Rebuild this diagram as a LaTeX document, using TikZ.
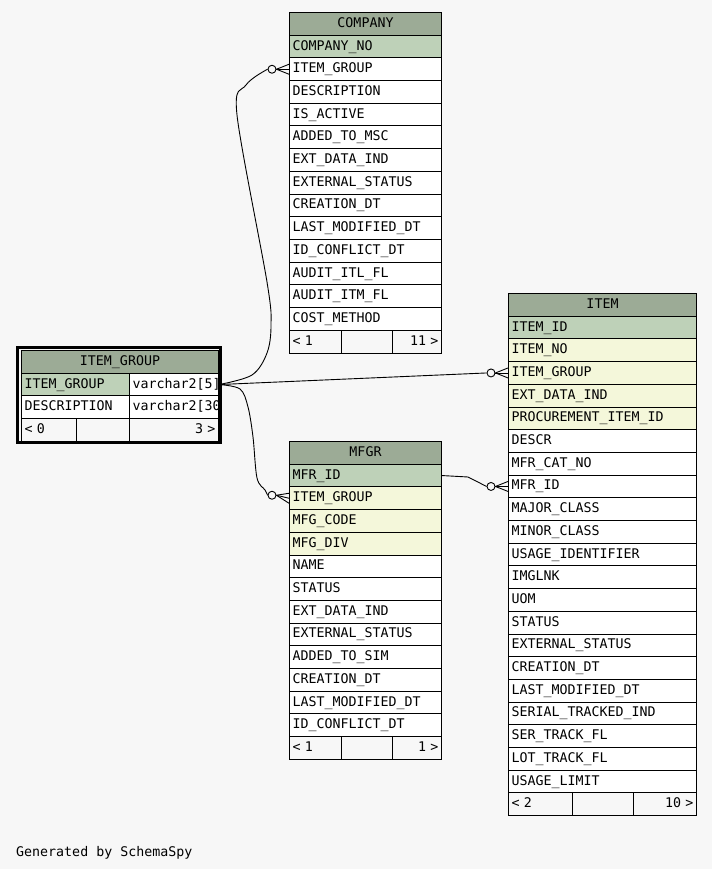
\documentclass[tikz,border=0pt]{standalone}
\usepackage{fontspec}
\newfontfamily\ermono{DejaVu Sans Mono}
\usetikzlibrary{calc}
\definecolor{bgcol}{HTML}{F7F7F7}
\definecolor{hdrgreen}{HTML}{9CAB96}
\definecolor{pkgreen}{HTML}{BED1B8}
\definecolor{fkyellow}{HTML}{F4F7DA}
\tikzset{
  field/.style={draw=black, line width=1pt, fill=white, anchor=north west,
    minimum height=22.7pt, inner sep=3pt, text height=10pt, text depth=3pt,
    align=left, font={\ermono\fontsize{13.3pt}{16pt}\selectfont}},
  pkey/.style={field, fill=pkgreen},
  fkey/.style={field, fill=fkyellow},
  tblhead/.style={field, fill=hdrgreen, align=center},
  foot/.style={field, fill=bgcol},
  footr/.style={foot, align=right},
  conn/.style={draw=black, line width=0.9pt},
  ring/.style={circle, draw=black, line width=0.9pt, fill=bgcol, minimum size=8pt, inner sep=0pt}
}
\begin{document}
\begin{tikzpicture}[x=1pt, y=-1pt]
\fill[bgcol] (0,0) rectangle (712,869);
\useasboundingbox (0,0) rectangle (712,869);

% COMPANY
\node[tblhead, text width=146pt] (co-hd) at (289,12) {COMPANY};
\node[pkey, text width=146pt] (co-no) at (289,34.7) {COMPANY\_NO};
\node[field, text width=146pt] (co-grp) at (289,57.4) {ITEM\_GROUP};
\node[field, text width=146pt] (co-desc) at (289,80.1) {DESCRIPTION};
\node[field, text width=146pt] (co-act) at (289,102.8) {IS\_ACTIVE};
\node[field, text width=146pt] (co-msc) at (289,125.5) {ADDED\_TO\_MSC};
\node[field, text width=146pt] (co-ext) at (289,148.2) {EXT\_DATA\_IND};
\node[field, text width=146pt] (co-stat) at (289,170.9) {EXTERNAL\_STATUS};
\node[field, text width=146pt] (co-cre) at (289,193.6) {CREATION\_DT};
\node[field, text width=146pt] (co-mod) at (289,216.3) {LAST\_MODIFIED\_DT};
\node[field, text width=146pt] (co-conf) at (289,239) {ID\_CONFLICT\_DT};
\node[field, text width=146pt] (co-itl) at (289,261.7) {AUDIT\_ITL\_FL};
\node[field, text width=146pt] (co-itm) at (289,284.4) {AUDIT\_ITM\_FL};
\node[field, text width=146pt] (co-cost) at (289,307.1) {COST\_METHOD};
\node[foot, text width=46pt] (co-f1) at (289,329.8) {< 1};
\node[foot, text width=45pt] (co-f2) at (341,329.8) {};
\node[footr, text width=43pt] (co-f3) at (392,329.8) {11 >};

% ITEM_GROUP
\node[tblhead, text width=191pt] (ig-hd) at (21,350) {ITEM\_GROUP};
\node[pkey, text width=102pt] (ig-grp) at (21,372.7) {ITEM\_GROUP};
\node[field, text width=83pt] (ig-type) at (129,372.7) {varchar2[5]};
\node[field, text width=102pt] (ig-desc) at (21,395.4) {DESCRIPTION};
\node[field, text width=83pt] (ig-dtype) at (129,395.4) {varchar2[30};
\node[foot, text width=49pt] (ig-f1) at (21,418.1) {< 0};
\node[foot, text width=47pt] (ig-f2) at (76,418.1) {};
\node[footr, text width=83pt] (ig-f3) at (129,418.1) {3 >};

% MFGR
\node[tblhead, text width=146pt] (mf-hd) at (289,441) {MFGR};
\node[pkey, text width=146pt] (mf-id) at (289,463.7) {MFR\_ID};
\node[fkey, text width=146pt] (mf-grp) at (289,486.4) {ITEM\_GROUP};
\node[fkey, text width=146pt] (mf-code) at (289,509.1) {MFG\_CODE};
\node[fkey, text width=146pt] (mf-div) at (289,531.8) {MFG\_DIV};
\node[field, text width=146pt] (mf-name) at (289,554.5) {NAME};
\node[field, text width=146pt] (mf-stat) at (289,577.2) {STATUS};
\node[field, text width=146pt] (mf-ext) at (289,599.9) {EXT\_DATA\_IND};
\node[field, text width=146pt] (mf-xst) at (289,622.6) {EXTERNAL\_STATUS};
\node[field, text width=146pt] (mf-sim) at (289,645.3) {ADDED\_TO\_SIM};
\node[field, text width=146pt] (mf-cre) at (289,668) {CREATION\_DT};
\node[field, text width=146pt] (mf-mod) at (289,690.7) {LAST\_MODIFIED\_DT};
\node[field, text width=146pt] (mf-conf) at (289,713.4) {ID\_CONFLICT\_DT};
\node[foot, text width=46pt] (mf-f1) at (289,736.1) {< 1};
\node[foot, text width=45pt] (mf-f2) at (341,736.1) {};
\node[footr, text width=43pt] (mf-f3) at (392,736.1) {1 >};

% ITEM
\node[tblhead, text width=182pt] (it-hd) at (508,293) {ITEM};
\node[pkey, text width=182pt] (it-id) at (508,315.7) {ITEM\_ID};
\node[fkey, text width=182pt] (it-no) at (508,338.4) {ITEM\_NO};
\node[fkey, text width=182pt] (it-grp) at (508,361.1) {ITEM\_GROUP};
\node[fkey, text width=182pt] (it-ext) at (508,383.8) {EXT\_DATA\_IND};
\node[fkey, text width=182pt] (it-proc) at (508,406.5) {PROCUREMENT\_ITEM\_ID};
\node[field, text width=182pt] (it-descr) at (508,429.2) {DESCR};
\node[field, text width=182pt] (it-cat) at (508,451.9) {MFR\_CAT\_NO};
\node[field, text width=182pt] (it-mfr) at (508,474.6) {MFR\_ID};
\node[field, text width=182pt] (it-maj) at (508,497.3) {MAJOR\_CLASS};
\node[field, text width=182pt] (it-min) at (508,520) {MINOR\_CLASS};
\node[field, text width=182pt] (it-usid) at (508,542.7) {USAGE\_IDENTIFIER};
\node[field, text width=182pt] (it-img) at (508,565.4) {IMGLNK};
\node[field, text width=182pt] (it-uom) at (508,588.1) {UOM};
\node[field, text width=182pt] (it-stat) at (508,610.8) {STATUS};
\node[field, text width=182pt] (it-xst) at (508,633.5) {EXTERNAL\_STATUS};
\node[field, text width=182pt] (it-cre) at (508,656.2) {CREATION\_DT};
\node[field, text width=182pt] (it-mod) at (508,678.9) {LAST\_MODIFIED\_DT};
\node[field, text width=182pt] (it-ser) at (508,701.6) {SERIAL\_TRACKED\_IND};
\node[field, text width=182pt] (it-sfl) at (508,724.3) {SER\_TRACK\_FL};
\node[field, text width=182pt] (it-lfl) at (508,747) {LOT\_TRACK\_FL};
\node[field, text width=182pt] (it-lim) at (508,769.7) {USAGE\_LIMIT};
\node[foot, text width=58pt] (it-f1) at (508,792.4) {< 2};
\node[foot, text width=55pt] (it-f2) at (572,792.4) {};
\node[footr, text width=57pt] (it-f3) at (633,792.4) {10 >};

% ends (circle + crow's foot)
\node[ring] (r1) at ($(co-grp.west)+(-17,0)$) {};
\node[ring] (r2) at ($(it-grp.west)+(-17,0)$) {};
\node[ring] (r3) at ($(mf-grp.west)+(-17,-3)$) {};
\node[ring] (r4) at ($(it-mfr.west)+(-17,0)$) {};
\draw[conn] (r1.east) -- (co-grp.west);
\draw[conn] (r1.east) -- ($(co-grp.west)+(0,-5)$);
\draw[conn] (r1.east) -- ($(co-grp.west)+(0,5)$);
\draw[conn] (r2.east) -- (it-grp.west);
\draw[conn] (r2.east) -- ($(it-grp.west)+(0,-5)$);
\draw[conn] (r2.east) -- ($(it-grp.west)+(0,5)$);
\draw[conn] (r3.east) -- (mf-grp.west);
\draw[conn] (r3.east) -- ($(mf-grp.west)+(0,-5)$);
\draw[conn] (r3.east) -- ($(mf-grp.west)+(0,5)$);
\draw[conn] (r4.east) -- (it-mfr.west);
\draw[conn] (r4.east) -- ($(it-mfr.west)+(0,-5)$);
\draw[conn] (r4.east) -- ($(it-mfr.west)+(0,5)$);

% relations
\draw[conn] plot[smooth, tension=0.55] coordinates {(ig-type.east) (252,375) (267,353) (271,325) (267,282) (237,115) (246,85) (r1.west)};
\draw[conn] (ig-type.east) -- (r2.west);
\draw[conn] plot[smooth, tension=0.55] coordinates {(ig-type.east) (240,389) (248,407) (253,437) (257,478) (265,490) (r3.west)};
\draw[conn] (mf-id.east) -- (468,477) -- (r4.west);

% table frame
\draw[line width=3pt] (17.5,347.5) rectangle (220.5,442.5);

\node[anchor=base west, inner sep=0pt, font={\ermono\fontsize{13.3pt}{16pt}\selectfont}] (gen) at (16,856) {Generated by SchemaSpy};
\end{tikzpicture}
\end{document}
